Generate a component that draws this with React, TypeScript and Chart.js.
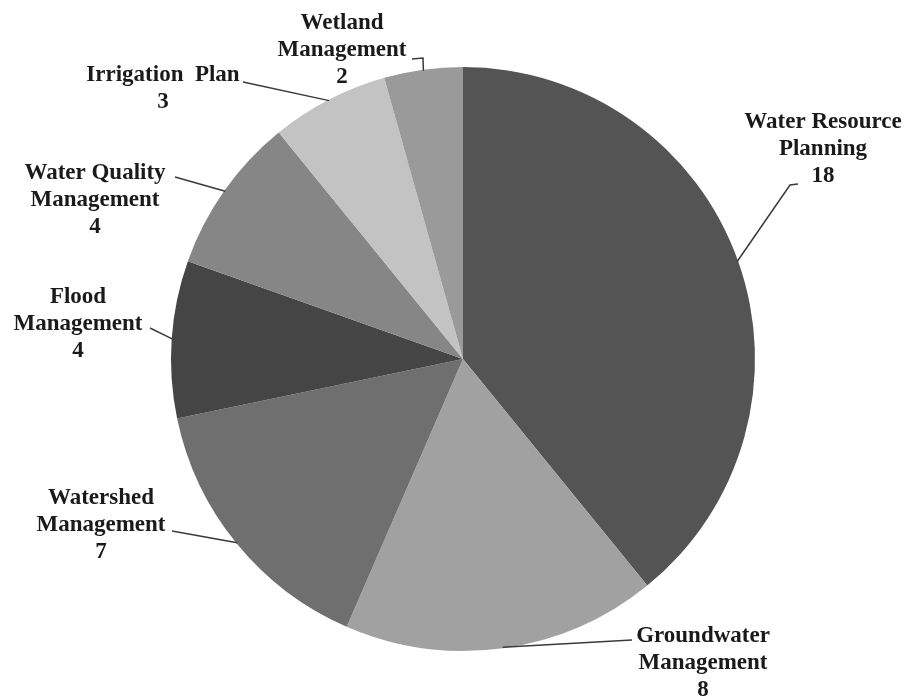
import React, { useEffect, useRef } from "react";
import { Chart, registerables } from "chart.js";

Chart.register(...registerables);

// ---- data ----
const categories = [
  "Water Resource Planning",
  "Groundwater Management",
  "Watershed Management",
  "Flood Management",
  "Water Quality Management",
  "Irrigation Plan",
  "Wetland Management",
];
const labelLines = [
  ["Water Resource", "Planning"],
  ["Groundwater", "Management"],
  ["Watershed", "Management"],
  ["Flood", "Management"],
  ["Water Quality", "Management"],
  ["Irrigation  Plan"],
  ["Wetland", "Management"],
];
const counts = [18, 8, 7, 4, 4, 3, 2];
const sliceColors = ["#545454", "#a1a1a1", "#6f6f6f", "#454545", "#868686", "#c3c3c3", "#9a9a9a"];

// ---- label layout (pixel offsets from pie centre) ----
// textX: centre of the text block; base: baseline of first line; elbows: leader points from label toward slice
const labelLayout = [
  { textX: 360, base: -231, elbows: [[335, -175], [327, -174]] },
  { textX: 240, base: 283, elbows: [[169, 281]] },
  { textX: -362, base: 145, elbows: [[-291, 172]] },
  { textX: -385, base: -56, elbows: [[-313, -31]] },
  { textX: -368, base: -180, elbows: [[-288, -182]] },
  { textX: -300, base: -278, elbows: [[-220, -277]] },
  { textX: -121, base: -330, elbows: [[-51, -300], [-40, -301]] },
];

const LINE_H = 27;
const FONT = "bold 23px 'Liberation Serif', 'Times New Roman', serif";

const labelPlugin = {
  id: "pieLabels",
  afterDatasetsDraw(chart: any) {
    const ctx = chart.ctx as CanvasRenderingContext2D;
    const meta = chart.getDatasetMeta(0);
    ctx.save();
    meta.data.forEach((arc: any, i: number) => {
      const { x: cx, y: cy, startAngle, endAngle, outerRadius } = arc.getProps(
        ["x", "y", "startAngle", "endAngle", "outerRadius"],
        true
      );
      const mid = (startAngle + endAngle) / 2;
      const sx = cx + Math.cos(mid) * (outerRadius - 1);
      const sy = cy + Math.sin(mid) * (outerRadius - 1);
      const lay = labelLayout[i];
      // leader line
      ctx.strokeStyle = "#3a3a3a";
      ctx.lineWidth = 1.5;
      ctx.beginPath();
      lay.elbows.forEach((p, k) => {
        const px = cx + p[0];
        const py = cy + p[1];
        if (k === 0) ctx.moveTo(px, py);
        else ctx.lineTo(px, py);
      });
      ctx.lineTo(sx, sy);
      ctx.stroke();
      // text
      ctx.fillStyle = "#1a1a1a";
      ctx.font = FONT;
      ctx.textAlign = "center";
      ctx.textBaseline = "alphabetic";
      const lines = [...labelLines[i], String(counts[i])];
      lines.forEach((t, k) => {
        ctx.fillText(t, cx + lay.textX, cy + lay.base + k * LINE_H);
      });
    });
    ctx.restore();
  },
};

export default function App() {
  const ref = useRef<HTMLCanvasElement | null>(null);
  useEffect(() => {
    if (!ref.current) return;
    const chart = new Chart(ref.current, {
      type: "pie",
      data: {
        labels: categories,
        datasets: [
          {
            data: counts,
            backgroundColor: sliceColors,
            borderWidth: 0,
          },
        ],
      },
      options: {
        responsive: false,
        animation: false,
        layout: { padding: { left: 171, right: 151, top: 67, bottom: 45 } },
        plugins: {
          legend: { display: false },
          tooltip: { enabled: false },
        },
      },
      plugins: [labelPlugin],
    });
    return () => chart.destroy();
  }, []);
  return (
    <div style={{ position: "fixed", left: 0, top: 0, width: 906, height: 696, background: "#fff" }}>
      <canvas ref={ref} width={906} height={696} />
    </div>
  );
}
